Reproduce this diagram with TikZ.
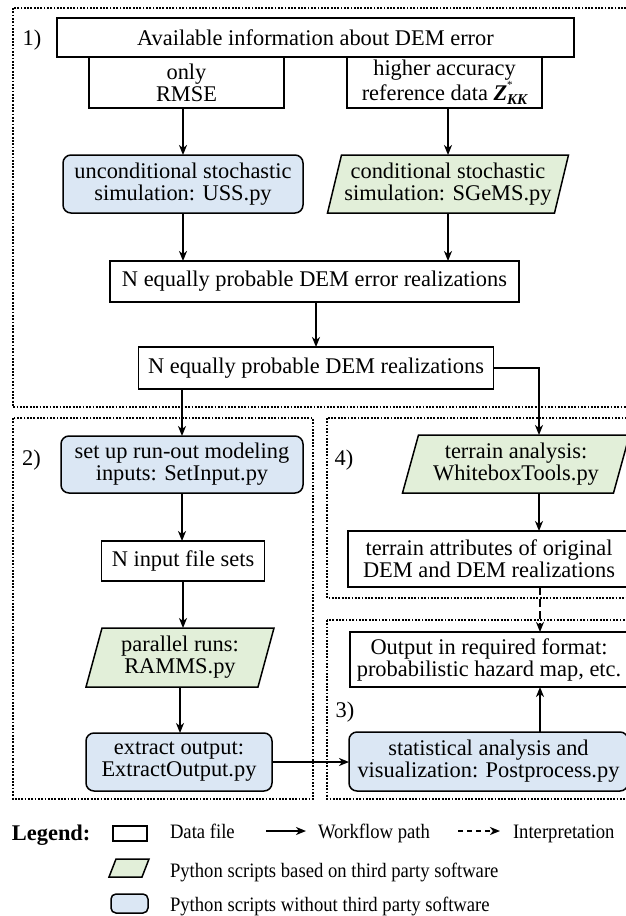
\documentclass[tikz,border=0pt]{standalone}
\usepackage{fontspec}
\usepackage{graphicx}
\setmainfont{Liberation Serif}
\usetikzlibrary{arrows.meta,backgrounds}
\definecolor{bluefill}{RGB}{219,231,244}
\definecolor{greenfill}{RGB}{226,239,217}
\newcommand{\mainsize}{\fontsize{22.4}{22}\selectfont}
\newcommand{\legsize}{\fontsize{20.5}{22}\selectfont}
\newcommand{\leg}[1]{\legsize\scalebox{0.91}[1]{#1}}
\newcommand{\zkk}{\textbf{\textit{Z}}\makebox[0pt][l]{\raisebox{1.1ex}{\fontsize{11}{11}\selectfont *}}\raisebox{-0.45ex}{\fontsize{15}{15}\selectfont\bfseries\itshape KK}}
\tikzset{
  boxline/.style={draw=black, line width=1.5pt},
  databox/.style={boxline, fill=white, inner sep=0pt, outer sep=0pt, align=center},
  scriptbox/.style={boxline, fill=bluefill, rounded corners=8pt, inner sep=0pt, outer sep=0pt, align=center},
  parabox/.style={inner sep=0pt, outer sep=0pt, align=center},
  arr/.style={line width=1.7pt, -{Stealth[length=10pt,width=8pt,inset=3pt]}},
  frame/.style={line width=2.3pt, dash pattern=on 1.8pt off 1.5pt},
  lbl/.style={inner sep=0pt, outer sep=0pt},
}
\newcommand{\paraback}[2]{\begin{scope}[on background layer]\draw[boxline, fill=greenfill] ([xshift=#2]#1.north west) -- ([xshift=#2]#1.north east) -- ([xshift=-#2]#1.south east) -- ([xshift=-#2]#1.south west) -- cycle;\end{scope}}
\begin{document}
\begin{tikzpicture}[x=1pt, y=-1pt, font=\mainsize]
\useasboundingbox (0,0) rectangle (626,916);
\begin{scope}[on background layer]
\fill[white] (0,0) rectangle (626,916);
\end{scope}

% frames
\draw[frame] (13,8) rectangle (640,407);
\draw[frame] (13,418) rectangle (313,799);
\draw[frame] (327,418) rectangle (640,598);
\draw[frame] (327,620) rectangle (640,799);

\node[lbl, anchor=base] (l1) at (32,45) {1)};
\node[lbl, anchor=base] (l2) at (31.5,465) {2)};
\node[lbl, anchor=base] (l4) at (344,465) {4)};
\node[lbl, anchor=base] (l3) at (345,717) {3)};

% section 1
\node[databox, minimum width=517pt, minimum height=39pt] (top) at (315.5,37.5) {Available information about DEM error};
\node[databox, minimum width=195pt, minimum height=51pt] (rmse) at (186.5,82.5) {only\\RMSE};
\node[databox, minimum width=195pt, minimum height=51pt] (hiacc) at (444.5,82.5) {higher accuracy\\reference data \zkk};
\node[scriptbox, minimum width=240pt, minimum height=58pt] (uss) at (183,184) {unconditional stochastic\\simulation: USS.py};
\node[parabox, minimum width=227pt, minimum height=58pt] (sgems) at (448,184) {conditional stochastic\\simulation: SGeMS.py};
\paraback{sgems}{7}
\node[databox, minimum width=409pt, minimum height=41pt] (nerr) at (314.5,281.5) {N equally probable DEM error realizations};
\node[databox, minimum width=355pt, minimum height=42pt] (ndem) at (316,368) {N equally probable DEM realizations};

\draw[arr] (rmse.south -| uss.north) -- (uss.north);
\draw[arr] (hiacc.south -| sgems.north) -- (sgems.north);
\draw[arr] (uss.south) -- (uss.south |- nerr.north);
\draw[arr] (sgems.south) -- (sgems.south |- nerr.north);
\draw[arr] (nerr.south -| ndem.north) -- (ndem.north);

% section 2
\node[scriptbox, minimum width=242pt, minimum height=57pt] (setin) at (182,464.5) {set up run-out modeling\\inputs: SetInput.py};
\node[databox, minimum width=163pt, minimum height=40pt] (ninp) at (183,561) {N input file sets};
\node[parabox, minimum width=172pt, minimum height=59pt] (ramms) at (180,657.5) {parallel runs:\\RAMMS.py};
\paraback{ramms}{8}
\node[scriptbox, minimum width=186pt, minimum height=58pt] (extr) at (179,762) {extract output:\\ExtractOutput.py};

\draw[arr] (ndem.south -| setin.north) -- (setin.north);
\draw[arr] (setin.south) -- (setin.south |- ninp.north);
\draw[arr] (ninp.south) -- (ninp.south |- ramms.north);
\draw[arr] (ramms.south) -- (ramms.south |- extr.north);

% section 4
\node[parabox, minimum width=211pt, minimum height=58pt] (wbt) at (516,464) {terrain analysis:\\WhiteboxTools.py};
\paraback{wbt}{8}
\node[databox, minimum width=282pt, minimum height=56pt] (tattr) at (489,559) {terrain attributes of original\\DEM and DEM realizations};
\draw[arr] (ndem.east) -| ([xshift=23pt]wbt.north);
\draw[arr] ([xshift=23pt]wbt.south) -- ([xshift=23pt]wbt.south |- tattr.north);

% section 3
\node[databox, minimum width=278pt, minimum height=55pt] (outp) at (489,659.5) {Output in required format:\\probabilistic hazard map, etc.};
\node[scriptbox, minimum width=279pt, minimum height=59pt] (post) at (488.5,761.5) {statistical analysis and\\visualization: Postprocess.py};
\draw[arr, dash pattern=on 8pt off 4pt] ([xshift=51pt]tattr.south) -- ([xshift=51pt]tattr.south |- outp.north);
\draw[arr] ([xshift=51.5pt]post.north) -- ([xshift=51.5pt]post.north |- outp.south);
\draw[arr] (extr.east) -- (extr.east -| post.west);

% legend
\node[lbl, anchor=base west, font=\mainsize\bfseries] (legt) at (12,840) {Legend:};
\node[databox, minimum width=34pt, minimum height=15pt] (legdata) at (130,833.5) {};
\node[lbl, anchor=base west] (ldata) at (170,838) {\leg{Data file}};
\coordinate (lwa) at (266,831);
\coordinate (lwb) at (306,831);
\draw[arr] (lwa) -- (lwb);
\node[lbl, anchor=base west] (lwork) at (318,838) {\leg{Workflow path}};
\coordinate (lia) at (458,831);
\coordinate (lib) at (500,831);
\draw[arr, dash pattern=on 5pt off 4pt] (lia) -- (lib);
\node[lbl, anchor=base west] (linter) at (513,838) {\leg{Interpretation}};
\node[parabox, minimum width=33pt, minimum height=18pt] (legpara) at (129,868) {};
\paraback{legpara}{3.5}
\node[lbl, anchor=base west] (lpara) at (170,877) {\leg{Python scripts based on third party software}};
\node[scriptbox, rounded corners=5pt, minimum width=37pt, minimum height=19pt] (legrnd) at (129.5,903.5) {};
\node[lbl, anchor=base west] (lrnd) at (170,911) {\leg{Python scripts without third party software}};
\end{tikzpicture}
\end{document}
